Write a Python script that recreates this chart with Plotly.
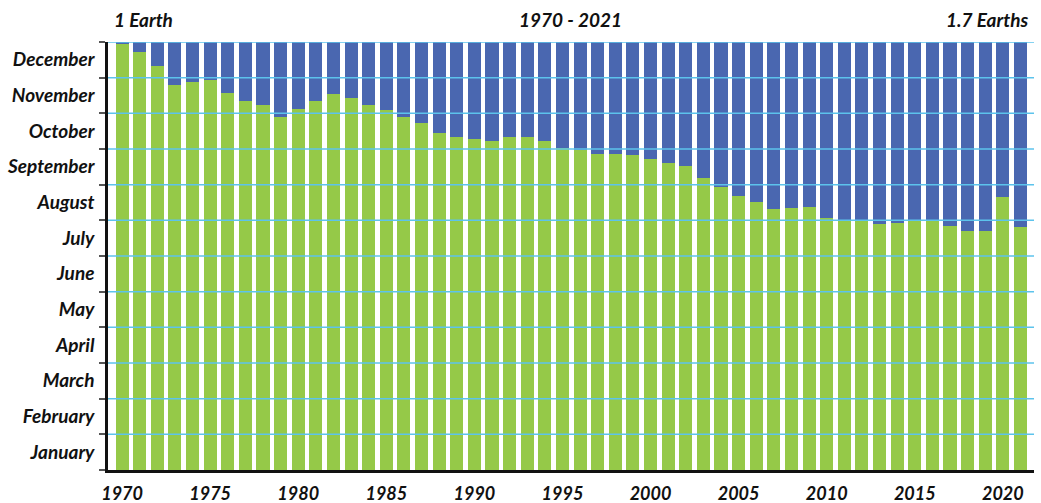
import plotly.graph_objects as go

years = list(range(1970, 2022))
# Overshoot date (month, day)
over_month = [12, 12, 12, 11, 11, 11, 11, 11, 11, 10,
              11, 11, 11, 11, 11, 11, 10, 10, 10, 10,
              10, 10, 10, 10, 10, 10, 9, 9, 9, 9,
              9, 9, 9, 9, 8, 8, 8, 8, 8, 8,
              8, 7, 7, 7, 7, 7, 7, 7, 7, 7,
              8, 7]
over_day = [29, 22, 10, 24, 26, 28, 17, 10, 7, 28,
            4, 10, 16, 13, 7, 3, 28, 23, 14, 10,
            9, 7, 10, 10, 7, 1, 29, 26, 26, 25,
            22, 18, 16, 6, 29, 21, 16, 10, 11, 12,
            2, 30, 30, 28, 29, 31, 31, 26, 22, 22,
            20, 25]
month_names = ["January", "February", "March", "April", "May", "June",
               "July", "August", "September", "October", "November", "December"]
month_days = [31, 28, 31, 30, 31, 30, 31, 31, 30, 31, 30, 31]
year_ticks = [1970, 1975, 1980, 1985, 1990, 1995, 2000, 2005, 2010, 2015, 2020]

green_vals = [(m - 1) + d / month_days[m - 1] for m, d in zip(over_month, over_day)]
blue_vals = [12 - g for g in green_vals]

GREEN = "#95C948"
BLUE = "#4A67B0"
GRID = "#5CC3EC"
FONT = "Lato"

fig = go.Figure()
fig.add_trace(go.Bar(x=years, y=green_vals, marker=dict(color=GREEN, line=dict(width=0)),
                     hoverinfo="skip"))
fig.add_trace(go.Bar(x=years, y=blue_vals, marker=dict(color=BLUE, line=dict(width=0)),
                     hoverinfo="skip"))

# gridlines above the bars
for b in range(1, 13):
    fig.add_shape(type="line", xref="paper", x0=0, x1=1, yref="y", y0=b, y1=b,
                  line=dict(color=GRID, width=1.5), layer="above")

fig.update_layout(
    width=1041, height=503,
    barmode="stack", bargap=0.26,
    showlegend=False,
    plot_bgcolor="white", paper_bgcolor="white",
    margin=dict(l=108, r=7, t=42, b=33, autoexpand=False),
    font=dict(family=FONT, color="#111111"),
    xaxis=dict(
        range=[1969.2, 2021.77], automargin=False,
        tickmode="array", tickvals=year_ticks, ticktext=[str(y) for y in year_ticks],
        ticks="", showgrid=False, zeroline=False,
        showline=True, linecolor="#111111", linewidth=2.5,
        tickfont=dict(family=FONT, size=18, style="italic", weight="bold", color="#111111"),
        ticklabelstandoff=6,
    ),
    yaxis=dict(
        range=[0, 12], automargin=False,
        tickmode="array", tickvals=[i + 0.5 for i in range(12)], ticktext=month_names,
        ticks="", showgrid=False, zeroline=False,
        showline=True, linecolor="#111111", linewidth=2.5,
        tickfont=dict(family=FONT, size=19, style="italic", weight="bold", color="#111111"),
        ticklabelstandoff=7,
        minor=dict(tick0=0, dtick=1, ticks="outside", ticklen=6, tickwidth=2,
                   tickcolor="#555555", showgrid=False),
    ),
    annotations=[
        dict(text="1 Earth", xref="paper", yref="paper", x=0.004, y=1.052,
             xanchor="left", yanchor="middle", showarrow=False,
             font=dict(family=FONT, size=19, style="italic", weight="bold", color="#111111")),
        dict(text="1970 - 2021", xref="paper", yref="paper", x=0.499, y=1.052,
             xanchor="center", yanchor="middle", showarrow=False,
             font=dict(family=FONT, size=19, style="italic", weight="bold", color="#111111")),
        dict(text="1.7 Earths", xref="paper", yref="paper", x=0.996, y=1.052,
             xanchor="right", yanchor="middle", showarrow=False,
             font=dict(family=FONT, size=19, style="italic", weight="bold", color="#111111")),
    ],
)

fig.write_html(
    "out.html",
    config={"displayModeBar": False},
    post_script="document.body.style.margin='0';document.body.style.overflow='hidden';",
)
